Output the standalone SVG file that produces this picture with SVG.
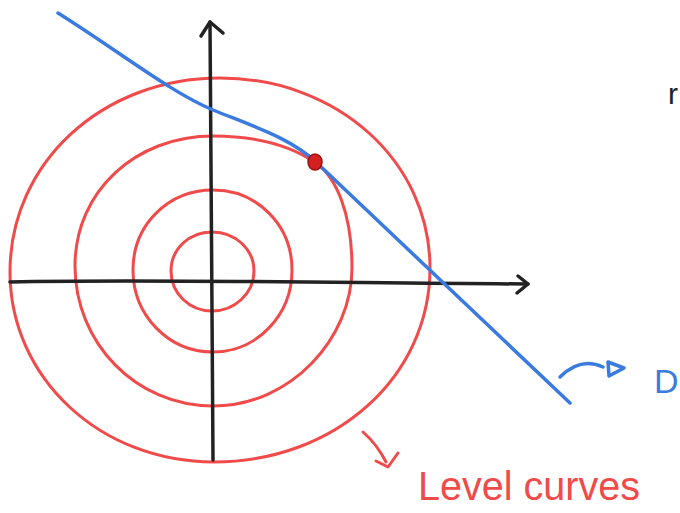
<svg xmlns="http://www.w3.org/2000/svg" width="680" height="513" viewBox="0 0 680 513">
<style>
.ax{fill:none;stroke:#222;stroke-width:3.5;stroke-linecap:round;stroke-linejoin:round}
.lv{fill:none;stroke:#f04a4a;stroke-width:3;stroke-linecap:round;stroke-linejoin:round}
.bl{fill:none;stroke:#3b7be0;stroke-width:3.5;stroke-linecap:round;stroke-linejoin:round}
.hand{font-family:"Liberation Sans",sans-serif}
</style>
<rect width="680" height="513" fill="#fff"/>
<g id="level-curves">
<path class="lv" d="M212,232 C235,232 254,249 254,271 C254,293 235,311 212,311 C189,311 171,293 171,271 C171,249 189,232 212,232 Z"/>
<path class="lv" d="M213,190 C257,190 292,225 292,270 C292,315 257,352 213,352 C168,352 133,315 133,270 C133,225 168,190 213,190 Z"/>
<path class="lv" d="M213,136 C255,136 290,145 316,163 C337,178 352,215 352,268 C352,338 291,406 213,406 C136,406 75,343 75,266 C75,191 136,136 213,136 Z"/>
<path class="lv" d="M220,78 C338,78 430,162 430,268 C430,377 335,462 214,462 C100,462 10,378 10,272 C10,163 102,78 220,78 Z"/>
</g>
<g id="axes">
<path class="ax" d="M213,460 C212,320 211,150 210,22"/>
<path class="ax" d="M201,36 L210,22 L223,33"/>
<path class="ax" d="M10,282 C150,279 350,283 528,284"/>
<path class="ax" d="M518,276 L528,284 L517,293"/>
</g>
<g id="constraint-D">
<path class="bl" d="M58,13 C120,52 170,92 213,110 C255,127 290,138 316,162 C380,222 480,318 570,403"/>
</g>
<g id="point">
<ellipse cx="315" cy="162" rx="7" ry="8" fill="#d42020" stroke="#a01010" stroke-width="1.5"/>
</g>
<g id="label-D">
<path class="bl" d="M560,377 C575,362 590,361 603,367"/>
<path class="bl" d="M608,362 L624,368 L609,376 Z" fill="#3b7be0"/>
<text class="hand" x="654" y="393" font-size="34" fill="#3b7be0">D</text>
</g>
<g id="label-level">
<path class="lv" d="M363,432 C372,440 380,450 386,462"/>
<path class="lv" d="M376,461 L388,467 L398,453"/>
<text class="hand" x="418" y="500" font-size="40" fill="#f04a4a" textLength="222" lengthAdjust="spacingAndGlyphs">Level curves</text>
</g>
<g id="label-r">
<text class="hand" x="668" y="104" font-size="30" fill="#222">r</text>
</g>
</svg>
